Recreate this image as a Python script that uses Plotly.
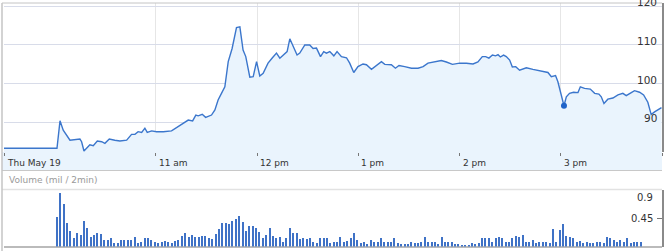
import pandas as pd
import plotly.graph_objects as go

# ---------------- data ----------------
# minutes after the 9:30 open, and price
price_minutes = [0, 31.4, 33.2, 35.1, 39.1, 45.0, 46.0, 47.4, 50.9, 52.9, 55.3, 57.9, 59.8, 62.4,
                 65.7, 68.7, 72.7, 75.6, 77.6, 79.5, 81.6, 83.5, 84.9, 87.5, 90.4, 94.4, 99.3,
                 104.2, 109.2, 111.8, 113.7, 115.1, 117.5, 119.5, 123.0, 125.0, 126.9, 128.9,
                 130.9, 132.9, 135.2, 137.8, 139.8, 141.7, 143.3, 145.7, 147.7, 149.7, 151.6,
                 153.6, 156.5, 159.1, 161.5, 163.5, 166.4, 167.8, 169.4, 171.3, 173.7, 175.3,
                 178.3, 181.2, 183.2, 185.2, 187.6, 189.5, 191.1, 193.1, 195.5, 197.4, 200.0,
                 203.0, 204.9, 207.3, 209.8, 212.8, 214.8, 217.8, 220.7, 223.7, 225.7, 229.6,
                 232.0, 234.1, 237.5, 241.5, 245.4, 248.4, 251.3, 255.3, 259.2, 262.2, 265.8,
                 270.1, 274.1, 278.0, 280.9, 283.5, 285.5, 287.4, 289.5, 291.4, 292.8, 294.2,
                 296.1, 297.7, 299.7, 301.3, 303.3, 305.6, 309.6, 313.5, 317.5, 322.4, 324.4,
                 326.9, 328.3, 330.3, 331.9, 333.3, 335.2, 337.6, 340.2, 341.6, 344.1, 347.5,
                 350.1, 352.6, 354.0, 355.6, 357.9, 360.9, 363.9, 366.8, 368.8, 371.8, 373.7,
                 376.7, 379.1, 381.6, 383.6, 385.6, 387.6, 389.7]
price_values = [83.3, 83.3, 90.4, 88.0, 85.4, 85.7, 85.0, 82.6, 84.2, 84.0, 85.2, 85.0, 84.6, 85.7,
                85.4, 85.2, 85.4, 86.9, 86.9, 87.6, 87.4, 88.5, 87.4, 87.8, 87.6, 87.6, 87.8,
                89.1, 90.6, 90.4, 91.9, 91.7, 92.1, 91.3, 91.9, 93.2, 95.8, 97.5,
                99.2, 105.7, 109.1, 114.5, 114.7, 108.7, 107.0, 101.7, 101.8, 105.7, 102.0,
                102.7, 105.3, 106.7, 107.9, 106.6, 107.6, 108.3, 111.6, 109.6, 107.4, 107.9,
                110.0, 110.0, 109.1, 109.2, 107.0, 108.3, 107.9, 108.3, 107.2, 108.3, 107.0,
                106.7, 105.3, 102.9, 104.4, 105.1, 104.9, 103.7, 104.8, 105.7, 105.0, 104.9,
                104.0, 104.7, 104.4, 104.0, 104.0, 104.4, 105.3, 105.7, 106.0, 105.6, 105.0,
                105.3, 105.3, 105.1, 105.6, 107.0, 107.0, 106.6, 107.4, 107.2, 107.5, 106.9,
                107.4, 107.0, 106.1, 104.3, 104.4, 103.5, 104.1, 103.7, 103.3, 102.9, 101.8,
                102.1, 100.5, 96.6, 94.3, 96.6, 97.5, 97.8, 97.7, 99.2, 98.8, 98.6,
                97.5, 97.3, 96.6, 94.9, 96.0, 96.3, 97.1, 97.5, 96.9, 97.7, 98.2,
                97.8, 97.1, 95.2, 92.0, 92.7, 93.2, 93.8]

# volume in millions per 2-minute bar, first bar at 10:01:30
volume = [0.47, 0.85, 0.67, 0.37, 0.25, 0.13, 0.22, 0.19, 0.40, 0.30, 0.16, 0.19, 0.21, 0.20,
          0.11, 0.11, 0.13, 0.06, 0.06, 0.11, 0.11, 0.11, 0.11, 0.15, 0.06, 0.07, 0.13, 0.14,
          0.11, 0.08, 0.05, 0.07, 0.09, 0.07, 0.05, 0.09, 0.11, 0.17, 0.21, 0.16, 0.19, 0.16,
          0.16, 0.17, 0.17, 0.13,
          0.12, 0.20, 0.28, 0.38, 0.38, 0.36, 0.40, 0.44, 0.49, 0.39, 0.25, 0.32, 0.33, 0.29,
          0.24, 0.13, 0.19, 0.29, 0.17, 0.13, 0.16, 0.07, 0.13, 0.29, 0.21, 0.21, 0.12, 0.14,
          0.12, 0.13, 0.07, 0.05, 0.14, 0.14, 0.14, 0.05, 0.07, 0.07, 0.15, 0.07, 0.09, 0.14,
          0.21, 0.11, 0.05, 0.07, 0.04,
          0.11, 0.08, 0.07, 0.13, 0.07, 0.07, 0.07, 0.13, 0.05, 0.04, 0.04, 0.04, 0.07, 0.05,
          0.05, 0.08, 0.16, 0.08, 0.07, 0.07, 0.04, 0.15, 0.07, 0.07, 0.08, 0.04, 0.04, 0.03,
          0.03, 0.03, 0.05, 0.04, 0.05, 0.13, 0.13, 0.13, 0.08, 0.14, 0.15, 0.13, 0.08, 0.07,
          0.13, 0.17, 0.16, 0.19, 0.08,
          0.07, 0.11, 0.05, 0.07, 0.07, 0.07, 0.05, 0.28, 0.08, 0.27, 0.36, 0.17, 0.16, 0.13,
          0.07, 0.09, 0.05, 0.07, 0.05, 0.05, 0.07, 0.08, 0.05, 0.16, 0.13, 0.11, 0.08, 0.11,
          0.07, 0.13, 0.05, 0.08, 0.08, 0.08]

marker_minute = [331.9]
marker_price = [94.3]

x_tick_times = ["2011-05-19 09:30", "2011-05-19 11:00", "2011-05-19 12:00", "2011-05-19 13:00",
                "2011-05-19 14:00", "2011-05-19 15:00", "2011-05-19 16:00"]
x_tick_labels = ["Thu May 19", "11 am", "12 pm", "1 pm", "2 pm", "3 pm", ""]
price_ticks = [120, 110, 100, 90]
volume_ticks = [0.45, 0.9]

# ---------------- build ----------------
W, H = 669, 251
base = pd.Timestamp("2011-05-19 09:30")
price_t = base + pd.to_timedelta(price_minutes, unit="min")
marker_t = base + pd.to_timedelta(marker_minute, unit="min")
vol_t = pd.date_range("2011-05-19 10:01:30", periods=len(volume), freq="2min")

def py(px):  # pixel row -> paper y
    return 1 - px / H

def pxx(px):
    return px / W

LINE = "#3b76cc"
FILL = "#eaf4fd"
x_range = ["2011-05-19 09:30", "2011-05-19 16:00"]

fig = go.Figure()
fig.add_trace(go.Scatter(x=price_t, y=price_values, mode="lines",
                         line=dict(color=LINE, width=1.4), fill="tozeroy",
                         fillcolor=FILL, xaxis="x", yaxis="y", hoverinfo="skip"))
fig.add_trace(go.Scatter(x=marker_t, y=marker_price, mode="markers",
                         marker=dict(color="#1f63c9", size=6), xaxis="x", yaxis="y",
                         hoverinfo="skip"))
fig.add_trace(go.Bar(x=vol_t, y=volume, marker=dict(color="#3f72c6", line=dict(width=0)),
                     width=50000, xaxis="x2", yaxis="y2", hoverinfo="skip"))

shapes = [
    # light band under the price panel with the time labels
    dict(type="rect", xref="paper", yref="paper", x0=pxx(2), x1=pxx(662), y0=py(170), y1=py(152),
         fillcolor=FILL, line=dict(width=0), layer="below"),
    # top border
    dict(type="line", xref="paper", yref="paper", x0=pxx(2), x1=pxx(662), y0=py(3), y1=py(3),
         line=dict(color="#c4c4c4", width=1)),
    # separator under time labels
    dict(type="line", xref="paper", yref="paper", x0=pxx(2), x1=pxx(662), y0=py(170.5), y1=py(170.5),
         line=dict(color="#c8c8c8", width=1)),
    # separator above volume
    dict(type="line", xref="paper", yref="paper", x0=pxx(2), x1=pxx(662), y0=py(189.5), y1=py(189.5),
         line=dict(color="#e2e2e2", width=1.5)),
    # left border
    dict(type="line", xref="paper", yref="paper", x0=pxx(2), x1=pxx(2), y0=0, y1=py(3),
         line=dict(color="#c4c4c4", width=1.5)),
]

annotations = []
for t, lab in zip(x_tick_times, x_tick_labels):
    if lab:
        annotations.append(dict(x=t, xref="x", y=py(163), yref="paper", text=lab,
                                showarrow=False, xanchor="left", yanchor="middle", xshift=1,
                                font=dict(family="DejaVu Sans", size=9, color="#333333")))
for v in price_ticks:
    annotations.append(dict(x=pxx(659), xref="paper", y=v, yref="y", text=str(v),
                            showarrow=False, xanchor="right", yanchor="middle", yshift=4,
                            font=dict(family="DejaVu Sans", size=10.5, color="#333333")))
for v in volume_ticks:
    annotations.append(dict(x=pxx(655), xref="paper", y=v, yref="y2", text=str(v),
                            showarrow=False, xanchor="right",
                            yanchor="top" if v == max(volume_ticks) else "middle",
                            yshift=0 if v == max(volume_ticks) else 0,
                            font=dict(family="DejaVu Sans", size=10, color="#333333")))
annotations.append(dict(x=pxx(7), xref="paper", y=py(180), yref="paper",
                        text="Volume (mil / 2min)", showarrow=False, xanchor="left",
                        yanchor="middle",
                        font=dict(family="DejaVu Sans", size=9, color="#9a9a9a")))

fig.update_layout(
    width=W, height=H, margin=dict(l=0, r=0, t=0, b=0),
    paper_bgcolor="white", plot_bgcolor="rgba(0,0,0,0)", showlegend=False,
    bargap=0,
    xaxis=dict(domain=[pxx(4), pxx(662)], range=x_range, type="date", anchor="y",
               tickvals=x_tick_times, showticklabels=False, ticks="outside", ticklen=3,
               tickcolor="#777777", showgrid=True, gridcolor="#e6e6e6", gridwidth=1,
               zeroline=False, showline=False, fixedrange=True),
    yaxis=dict(domain=[py(152), py(3)], range=[82.35, 120.85], side="right",
               tickvals=price_ticks, showticklabels=False, ticks="",
               showgrid=True, gridcolor="#d8dce9", gridwidth=1, zeroline=False,
               showline=True, linecolor="#8a8a8a", linewidth=1.5, fixedrange=True),
    xaxis2=dict(domain=[pxx(4), pxx(662)], range=x_range, type="date", anchor="y2",
                matches="x", showticklabels=False, ticks="", showgrid=False,
                zeroline=False, showline=False, fixedrange=True),
    yaxis2=dict(domain=[py(246.6), py(190)], range=[0, 0.9], side="right",
                tickvals=volume_ticks, showticklabels=False, ticks="inside", ticklen=5,
                tickcolor="#777777", showgrid=False, zeroline=True, zerolinecolor="#bbbbbb",
                showline=True, linecolor="#8a8a8a", linewidth=1.5, fixedrange=True),
    shapes=shapes, annotations=annotations,
)

fig.write_html("out.html", config={"displayModeBar": False})
